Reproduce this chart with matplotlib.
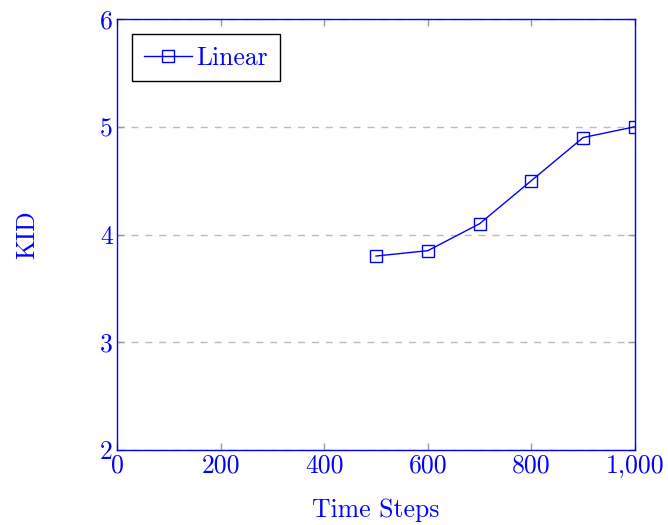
import matplotlib
matplotlib.use("Agg")
import matplotlib.pyplot as plt
from matplotlib.ticker import FuncFormatter

steps = [500, 600, 700, 800, 900, 1000]
kid = [3.8, 3.85, 4.1, 4.5, 4.9, 5.0]
xticks = [0, 200, 400, 600, 800, 1000]
yticks = [2, 3, 4, 5, 6]

plt.rcParams['font.family'] = ['cmr10', 'DejaVu Serif']
plt.rcParams['axes.formatter.use_mathtext'] = True
plt.rcParams['mathtext.fontset'] = 'cm'

blue = '#0000ff'
fs = 18.5
fig = plt.figure(figsize=(6.68, 5.25), dpi=100)
ax = fig.add_axes([117/668, 1-450/525, (635-117)/668, (450-19)/525])

ax.plot(steps, kid, color=blue, lw=1.0, marker='s', markersize=8,
        markerfacecolor='none', markeredgecolor=blue, markeredgewidth=1.0, label='Linear')

ax.set_xlim(0, 1000)
ax.set_ylim(2, 6)
ax.set_xticks(xticks)
ax.set_yticks(yticks)
ax.xaxis.set_major_formatter(FuncFormatter(lambda v, p: f"{int(v):,}"))
ax.yaxis.set_major_formatter(FuncFormatter(lambda v, p: f"{int(v)}"))
ax.tick_params(direction='in', top=True, right=True, length=5, width=1,
               color='#999999', labelcolor=blue, labelsize=fs, pad=3)
for s in ax.spines.values():
    s.set_color(blue)
    s.set_linewidth(1.0)
ax.yaxis.grid(True, linestyle=(0, (5, 5)), color='#bbbbbb', lw=1)
ax.set_axisbelow(True)

ax.set_xlabel('Time Steps', color=blue, fontsize=fs, labelpad=15)
ax.set_ylabel('KID', color=blue, fontsize=fs, labelpad=44)

leg = ax.legend(loc='upper left', fontsize=fs, fancybox=False, edgecolor='black',
                framealpha=1, borderpad=0.45, handlelength=1.85, handletextpad=0.2,
                borderaxespad=0.6)
leg.get_frame().set_linewidth(1.0)
for t in leg.get_texts():
    t.set_color(blue)

fig.savefig('out.png', dpi=100)
